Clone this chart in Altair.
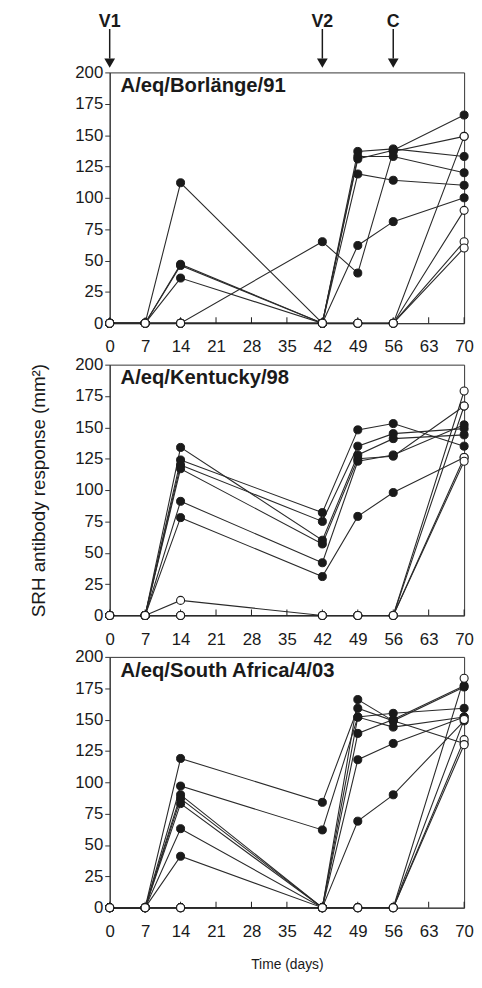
import altair as alt
import pandas as pd

FONT = "Liberation Sans"

days = [0, 7, 14, 42, 49, 56, 70]
panel_names = ["A/eq/Borlänge/91", "A/eq/Kentucky/98", "A/eq/South Africa/4/03"]

borlange_vacc = [
    [0, 0, 112, 0, 137, 139, 133],
    [0, 0, 47, 0, 131, 138, 166],
    [0, 0, 46, 0, 133, 133, 120],
    [0, 0, 36, 0, 119, 114, 110],
    [0, 0, 0, 65, 40, 137, 149],
    [0, 0, 0, 0, 62, 81, 100],
]
borlange_ctrl = [
    [0, 0, 0, 0, 0, 0, 149],
    [0, 0, 0, 0, 0, 0, 90],
    [0, 0, 0, 0, 0, 0, 65],
    [0, 0, 0, 0, 0, 0, 60],
]

kentucky_vacc = [
    [0, 0, 124, 82, 148, 153, 135],
    [0, 0, 120, 75, 135, 145, 149],
    [0, 0, 134, 60, 128, 141, 144],
    [0, 0, 117, 57, 125, 127, 167],
    [0, 0, 91, 42, 123, 128, 152],
    [0, 0, 78, 31, 79, 98, 126],
]
kentucky_ctrl = [
    [0, 0, 12, 0, 0, 0, 179],
    [0, 0, 0, 0, 0, 0, 167],
    [0, 0, 0, 0, 0, 0, 126],
    [0, 0, 0, 0, 0, 0, 123],
]

safrica_vacc = [
    [0, 0, 119, 84, 159, 149, 176],
    [0, 0, 97, 62, 152, 155, 159],
    [0, 0, 90, 0, 166, 149, 131],
    [0, 0, 87, 0, 152, 144, 152],
    [0, 0, 83, 0, 139, 150, 177],
    [0, 0, 63, 0, 118, 131, 152],
    [0, 0, 41, 0, 69, 90, 149],
]
safrica_ctrl = [
    [0, 0, 0, 0, 0, 0, 183],
    [0, 0, 0, 0, 0, 0, 150],
    [0, 0, 0, 0, 0, 0, 134],
    [0, 0, 0, 0, 0, 0, 130],
]

x_tick_values = list(range(0, 71, 7))
y_tick_values = list(range(0, 201, 25))
arrow_days = [0, 42, 56]
arrow_labels = ["V1", "V2", "C"]

W, H = 359, 254
INK = "#1a1a1a"


def make_df(vacc, ctrl):
    rows = []
    for i, series in enumerate(vacc):
        for d, v in zip(days, series):
            rows.append({"sid": f"v{i}", "group": "v", "day": d, "value": v})
    for i, series in enumerate(ctrl):
        for d, v in zip(days, series):
            rows.append({"sid": f"c{i}", "group": "c", "day": d, "value": v})
    return pd.DataFrame(rows)


def panel(idx, name, vacc, ctrl):
    df = make_df(vacc, ctrl)
    xkw = dict(
        scale=alt.Scale(domain=[0, 70], nice=False, zero=False),
        axis=alt.Axis(values=x_tick_values, tickSize=0, labelPadding=16,
                      labelFontSize=17, grid=False, labelFlush=False,
                      titlePadding=19, titleFontSize=14),
    )
    if idx == 2:
        X = alt.X("day:Q", title="Time (days)", **xkw)
    else:
        X = alt.X("day:Q", title=None, **xkw)
    ykw = dict(
        scale=alt.Scale(domain=[0, 200], nice=False),
        axis=alt.Axis(values=y_tick_values, tickSize=5, labelPadding=2,
                      labelFontSize=17, grid=False, titlePadding=27,
                      titleFontSize=19),
    )
    if idx == 1:
        Y = alt.Y("value:Q", title="SRH antibody response (mm²)", **ykw)
    else:
        Y = alt.Y("value:Q", title=None, **ykw)

    lines = alt.Chart(df).mark_line(color="#2a2a2a", strokeWidth=1.1).encode(
        x=X, y=Y, detail="sid:N", order="day:Q"
    )
    ticks = alt.Chart(pd.DataFrame({"day": x_tick_values})).mark_rule(
        color=INK, strokeWidth=1
    ).encode(x=X, y=alt.value(H), y2=alt.value(H - 6))
    filled = alt.Chart(df).transform_filter(alt.datum.group == "v").mark_point(
        shape="circle", filled=True, fill=INK, stroke=INK, strokeWidth=1,
        size=66, opacity=1
    ).encode(x=X, y=Y)
    open_ = alt.Chart(df).transform_filter(alt.datum.group == "c").mark_point(
        shape="circle", filled=True, fill="white", stroke=INK, strokeWidth=1.1,
        size=66, opacity=1
    ).encode(x=X, y=Y)
    title = alt.Chart(pd.DataFrame({"label": [name]})).mark_text(
        align="left", baseline="alphabetic", fontSize=20.5, fontWeight="bold",
        font=FONT, color=INK
    ).encode(x=alt.value(11), y=alt.value(20), text="label:N")

    layers = [lines, ticks, filled, open_, title]
    if idx == 0:
        adf = pd.DataFrame({"day": arrow_days, "label": arrow_labels})
        a_text = alt.Chart(adf).mark_text(
            align="center", baseline="top", fontSize=18,
            fontWeight="bold", font=FONT, color=INK
        ).encode(x=X, y=alt.value(-60), text="label:N")
        a_rule = alt.Chart(adf).mark_rule(color=INK, strokeWidth=1.5).encode(
            x=X, y=alt.value(-44), y2=alt.value(-14)
        )
        a_head = alt.Chart(adf).mark_point(
            shape="triangle-down", filled=True, fill=INK, stroke=INK,
            size=55, opacity=1
        ).encode(x=X, y=alt.value(-10))
        layers += [a_rule, a_head, a_text]
    return alt.layer(*layers).properties(width=W, height=H)


p0 = panel(0, panel_names[0], borlange_vacc, borlange_ctrl)
p1 = panel(1, panel_names[1], kentucky_vacc, kentucky_ctrl)
p2 = panel(2, panel_names[2], safrica_vacc, safrica_ctrl)

chart = alt.vconcat(p0, p1, p2, spacing=42, bounds="flush").properties(
    padding={"left": 21, "top": -2, "right": 0, "bottom": 0},
    background="white",
).configure_view(stroke="#333333", strokeWidth=1).configure_axis(
    labelFont=FONT, titleFont=FONT, labelColor=INK, titleColor=INK,
    domainColor="#333333", tickColor="#333333", titleFontWeight="normal",
)

chart.save("out.html", embed_options={"renderer": "svg", "actions": False})
